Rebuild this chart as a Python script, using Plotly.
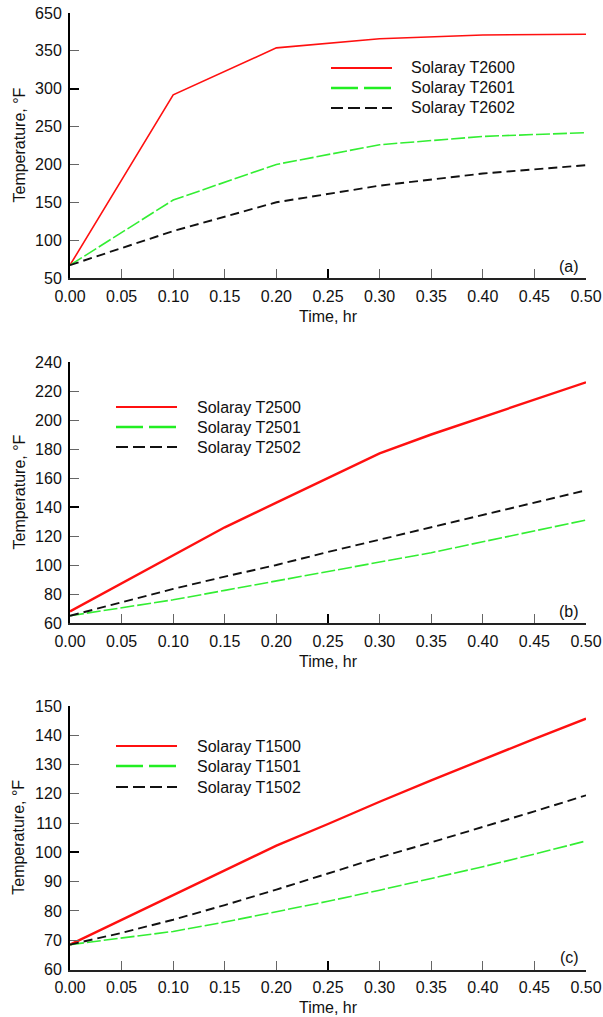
import plotly.graph_objects as go

# ---- data ----
time_a = [0.0, 0.1, 0.2, 0.3, 0.4, 0.5]
t2600 = [67, 292, 354, 366, 371, 372]
t2601 = [67, 153, 200, 226, 237, 242]
t2602 = [67, 112, 150, 172, 188, 199]

time_bc = [0.0, 0.05, 0.1, 0.15, 0.2, 0.25, 0.3, 0.35, 0.4, 0.45, 0.5]
t2500 = [68, 87.5, 107, 126, 143, 160, 177, 190, 202, 214, 226]
t2501 = [65, 70.5, 76, 82.5, 89, 95, 101.5, 108.5, 116, 123.5, 131]
t2502 = [65, 74.5, 83.5, 92, 100, 109, 117.5, 126, 135, 143, 151.5]

t1500 = [68.5, 77, 85.5, 94, 102.3, 109.7, 117.3, 124.6, 131.8, 138.8, 145.7]
t1501 = [68.5, 70.7, 73, 76.2, 79.7, 83.3, 87.1, 91, 95.1, 99.4, 103.9]
t1502 = [68.5, 72.5, 77, 82, 87.3, 92.8, 98.3, 103.4, 108.6, 114, 119.5]

x_ticks = [0.0, 0.05, 0.1, 0.15, 0.2, 0.25, 0.3, 0.35, 0.4, 0.45, 0.5]
x_ticktext = ["0.00", "0.05", "0.10", "0.15", "0.20", "0.25", "0.30", "0.35", "0.40", "0.45", "0.50"]
y_ticks_a = [50, 100, 150, 200, 250, 300, 350, 400]
y_ticktext_a = ["50", "100", "150", "200", "250", "300", "350", "650"]
y_ticks_b = [60, 80, 100, 120, 140, 160, 180, 200, 220, 240]
y_ticks_c = [60, 70, 80, 90, 100, 110, 120, 130, 140, 150]

names_a = ["Solaray T2600", "Solaray T2601", "Solaray T2602"]
names_b = ["Solaray T2500", "Solaray T2501", "Solaray T2502"]
names_c = ["Solaray T1500", "Solaray T1501", "Solaray T1502"]

W, H = 603, 1017
FONT = "Arial, Liberation Sans, sans-serif"
FS = 16
RED, GREEN, BLACK = "#ff1010", "#33ee33", "#111111"


def px(x):
    return x / W


def py(y):
    return 1 - y / H


fig = go.Figure()

# panel geometry in pixels
X0, X1 = 70, 586
panels = [
    dict(top=13, bottom=278, yr=[50, 400], yt=y_ticks_a, ytt=y_ticktext_a, thick_y=[50, 300],
         t=time_a, series=[t2600, t2601, t2602], names=names_a, tag="(a)",
         red_w=1.6, leg_x0=331, leg_x1=392, leg_tx=409, leg_y=[68, 88, 108]),
    dict(top=362, bottom=623, yr=[60, 240], yt=y_ticks_b, ytt=[str(v) for v in y_ticks_b], thick_y=[140, 240],
         t=time_bc, series=[t2500, t2501, t2502], names=names_b, tag="(b)",
         red_w=2.4, leg_x0=116, leg_x1=177, leg_tx=195, leg_y=[407, 427, 447]),
    dict(top=706, bottom=969.5, yr=[60, 150], yt=y_ticks_c, ytt=[str(v) for v in y_ticks_c], thick_y=[100],
         t=time_bc, series=[t1500, t1501, t1502], names=names_c, tag="(c)",
         red_w=2.4, leg_x0=116, leg_x1=177, leg_tx=195, leg_y=[746, 766, 787]),
]

styles = [
    dict(color=RED, dash="solid"),
    dict(color=GREEN, dash="14px,3px"),
    dict(color=BLACK, dash="9px,5px"),
]
legend_styles = [
    dict(color=RED, dash="solid", width=2),
    dict(color="#22ee22", dash="27px,6px", width=2.5),
    dict(color=BLACK, dash="12px,5px", width=2),
]

shapes = []
annotations = []

for i, p in enumerate(panels):
    n = i + 1
    xa = "x" if n == 1 else f"x{n}"
    ya = "y" if n == 1 else f"y{n}"
    # overlay axes carrying the heavier major ticks
    xo_n, yo_n = n + 3, n + 3
    xo, yo = f"x{xo_n}", f"y{yo_n}"

    widths = [p["red_w"], 1.6, 1.9]
    for s, (vals, name) in enumerate(zip(p["series"], p["names"])):
        fig.add_trace(go.Scatter(
            x=p["t"], y=vals, name=name, mode="lines", showlegend=False,
            line=dict(color=styles[s]["color"], dash=styles[s]["dash"], width=widths[s]),
            xaxis=xa, yaxis=ya,
        ))
    fig.add_trace(go.Scatter(x=[None], y=[None], xaxis=xo, yaxis=yo,
                             showlegend=False, hoverinfo="skip"))

    ydom = [py(p["bottom"]), py(p["top"])]
    xdom = [px(X0), px(X1)]
    base_x = dict(domain=xdom, range=[0, 0.5], anchor=ya, tickmode="array",
                  tickvals=x_ticks, ticktext=x_ticktext, ticks="inside", ticklen=9,
                  tickwidth=1, tickcolor="#666666", showline=True, linecolor="#222222",
                  linewidth=1.5, showgrid=False, zeroline=False, automargin=False,
                  tickfont=dict(family=FONT, size=FS, color="#111111"),
                  ticklabelstandoff=3)
    base_y = dict(domain=ydom, range=p["yr"], anchor=xa, tickmode="array",
                  tickvals=p["yt"], ticktext=p["ytt"], ticks="inside", ticklen=9,
                  tickwidth=1, tickcolor="#666666", showline=True, linecolor="black",
                  linewidth=2, showgrid=False, zeroline=False, automargin=False,
                  tickfont=dict(family=FONT, size=FS, color="#111111"),
                  ticklabelstandoff=3)
    fig.update_layout({
        ("xaxis" if n == 1 else f"xaxis{n}"): base_x,
        ("yaxis" if n == 1 else f"yaxis{n}"): base_y,
        f"xaxis{xo_n}": dict(domain=xdom, range=[0, 0.5], anchor=yo, overlaying=xa,
                             tickmode="array", tickvals=[0.0, 0.25, 0.5], ticks="inside",
                             ticklen=9, tickwidth=2, tickcolor="black", automargin=False,
                             showticklabels=False, showline=False, showgrid=False,
                             zeroline=False),
        f"yaxis{yo_n}": dict(domain=ydom, range=p["yr"], anchor=xo, overlaying=ya,
                             tickmode="array", tickvals=p["thick_y"], ticks="inside",
                             ticklen=9, tickwidth=2, tickcolor="black", automargin=False,
                             showticklabels=False, showline=False, showgrid=False,
                             zeroline=False),
    })

    # legend block
    for s, (ly, name) in enumerate(zip(p["leg_y"], p["names"])):
        ls = legend_styles[s]
        shapes.append(dict(type="line", xref="paper", yref="paper",
                           x0=px(p["leg_x0"]), x1=px(p["leg_x1"]), y0=py(ly), y1=py(ly),
                           line=dict(color=ls["color"], dash=ls["dash"], width=ls["width"])))
        annotations.append(dict(text=name, xref="paper", yref="paper",
                                x=px(p["leg_tx"]), y=py(ly), xanchor="left", yanchor="middle",
                                showarrow=False, font=dict(family=FONT, size=FS, color="#111111")))

    # panel tag
    annotations.append(dict(text=p["tag"], xref="paper", yref="paper",
                            x=px(581), y=py(p["bottom"] - 12), xanchor="right", yanchor="middle",
                            showarrow=False, font=dict(family=FONT, size=FS, color="#111111")))
    # axis titles
    annotations.append(dict(text="Time, hr", xref="paper", yref="paper",
                            x=px((X0 + X1) / 2), y=py(p["bottom"] + 38), xanchor="center",
                            yanchor="middle", showarrow=False,
                            font=dict(family=FONT, size=FS, color="#111111")))
    annotations.append(dict(text="Temperature, °F", xref="paper", yref="paper",
                            x=px(19), y=py((p["top"] + p["bottom"]) / 2), xanchor="center",
                            yanchor="middle", textangle=-90, showarrow=False,
                            font=dict(family=FONT, size=FS, color="#111111")))

fig.update_layout(
    template="none",
    width=W, height=H,
    margin=dict(l=0, r=0, t=0, b=0),
    paper_bgcolor="white", plot_bgcolor="white",
    showlegend=False,
    shapes=shapes,
    annotations=annotations,
)

fig.write_html("out.html")
